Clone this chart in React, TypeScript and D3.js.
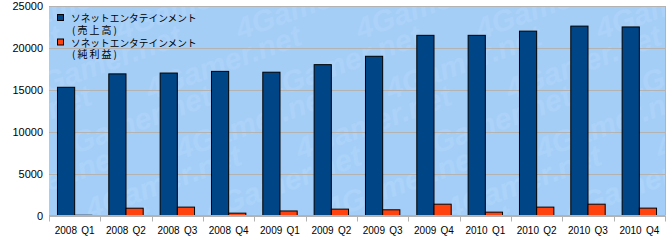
import React from "react";
import * as d3 from "d3";

const categories = ["2008 Q1","2008 Q2","2008 Q3","2008 Q4","2009 Q1","2009 Q2","2009 Q3","2009 Q4","2010 Q1","2010 Q2","2010 Q3","2010 Q4"];
const sales = [15300,16900,17000,17200,17100,18000,19000,21500,21500,22000,22600,22500];
const profit = [30,870,1000,280,540,760,680,1350,400,1000,1350,880];
const yTicks = [0,5000,10000,15000,20000,25000];
const seriesNames = [["ソネットエンタテインメント","(売上高)"],["ソネットエンタテインメント","(純利益)"]];
const colors = ["#004586","#ff420e"];
const watermark = "4Gamer.net";

export default function App() {
  const W = 670, H = 242;
  const left = 49, right = 665, top = 6, bottom = 215.5;
  const x = d3.scaleBand<string>().domain(categories).range([left, right]).paddingInner(0.33).paddingOuter(0.165);
  const y = d3.scaleLinear().domain([0, 25000]).range([bottom, top]);
  const band = d3.scaleBand<string>().domain(categories).range([left, right]);
  const bw = x.bandwidth() / 2;
  const font = "'Liberation Sans', Arial, sans-serif";
  const jfont = "'Noto Sans CJK JP', sans-serif";
  const marks: React.ReactNode[] = [];
  for (let i = -2; i < 8; i++) {
    for (let j = -1; j < 5; j++) {
      const wx = i * 120 + j * 30, wy = j * 60 + 40;
      marks.push(
        <text key={`w${i}-${j}`} x={wx} y={wy} transform={`rotate(-20 ${wx} ${wy})`}
          fontFamily={font} fontWeight="bold" fontStyle="italic" fontSize={30} fill="#b2d7fb" opacity={0.55}>{watermark}</text>
      );
    }
  }
  return (
    <svg width={W} height={H} style={{ position: "absolute", left: 0, top: 0, background: "#fff" }}>
      <defs>
        <clipPath id="pa"><rect x={left} y={top} width={right - left} height={bottom - top} /></clipPath>
      </defs>
      <rect x={left} y={top} width={right - left} height={bottom - top} fill="#a5cef7" />
      <g clipPath="url(#pa)">{marks}</g>
      {yTicks.map(t => (
        <g key={t}>
          <line x1={left} x2={right} y1={Math.round(y(t)) + 0.5} y2={Math.round(y(t)) + 0.5} stroke="#b3b3b3" strokeWidth={1} />
          <text x={43} y={y(t) + 4} textAnchor="end" fontFamily={font} fontSize={11} fill="#000">{t}</text>
        </g>
      ))}
      <line x1={right + 0.5} x2={right + 0.5} y1={top} y2={bottom} stroke="#b3b3b3" />
      {categories.map((c, i) => (
        <g key={c}>
          <rect x={x(c)!} y={y(sales[i])} width={bw} height={bottom - y(sales[i])} fill={colors[0]} stroke="#000" strokeWidth={1} />
          <rect x={x(c)! + bw} y={y(profit[i])} width={bw} height={bottom - y(profit[i])} fill={colors[1]} stroke="#000" strokeWidth={1} />
          <text x={band(c)! + band.bandwidth() / 2} y={234} textAnchor="middle" fontFamily={font} fontSize={10} fill="#000" wordSpacing={1.5}>{c}</text>
        </g>
      ))}
      <line x1={left} x2={right} y1={bottom} y2={bottom} stroke="#b3b3b3" />
      {[...categories, "end"].map((c, i) => {
        const xx = Math.round(left + i * band.bandwidth()) + 0.5;
        return <line key={"t" + i} x1={xx} x2={xx} y1={bottom} y2={bottom + 6} stroke="#b3b3b3" />;
      })}
      {seriesNames.map((s, k) => (
        <g key={k}>
          <rect x={57.5} y={14.5 + k * 24.5} width={6} height={6} fill={colors[k]} stroke="#000" />
          <text x={71} y={22 + k * 24.5} fontFamily={jfont} fontSize={9.7} fill="#000">{s[0]}</text>
          <text x={72} y={33.5 + k * 24.5} fontFamily={jfont} fontSize={10} letterSpacing={2} fill="#000">{s[1]}</text>
        </g>
      ))}
    </svg>
  );
}
